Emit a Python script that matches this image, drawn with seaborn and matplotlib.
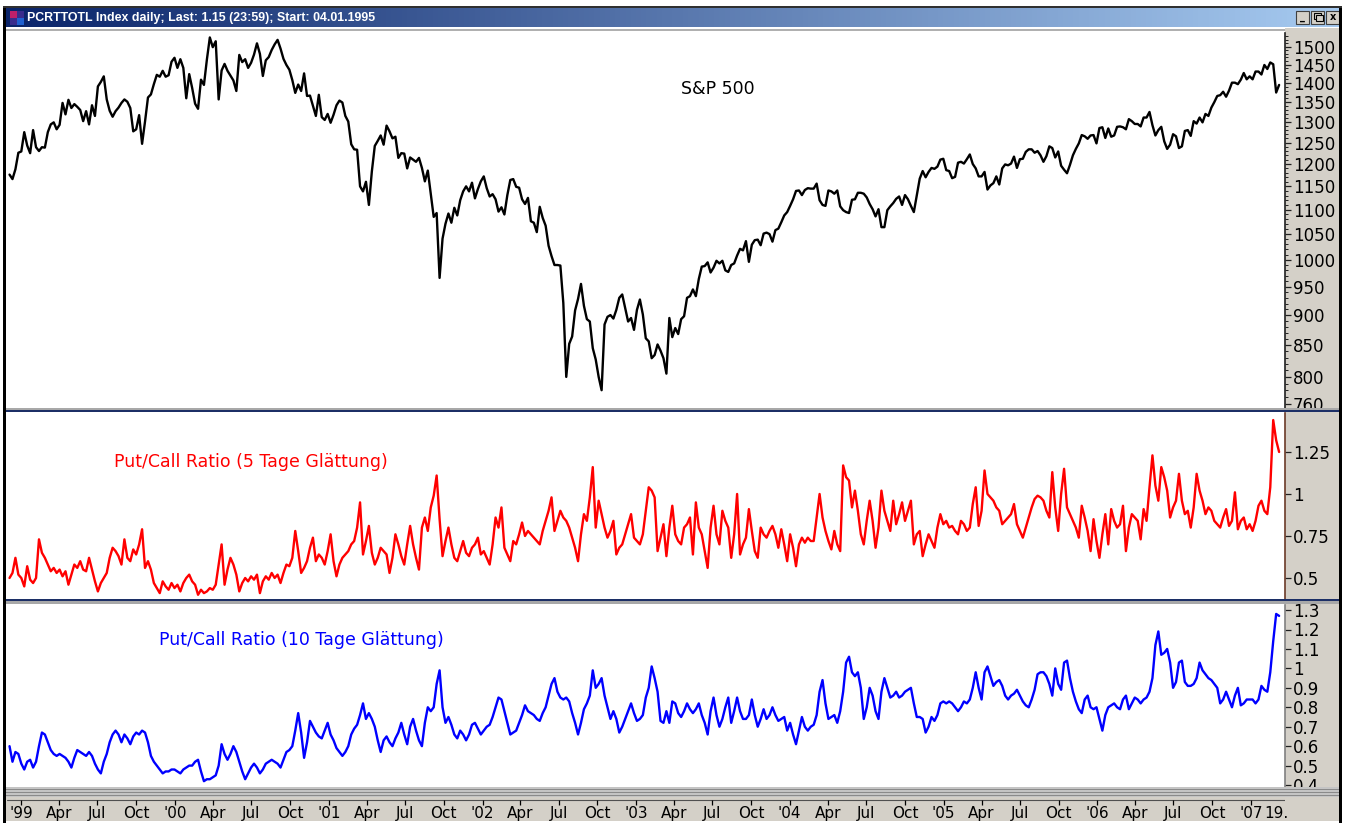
# S&P 500 vs. Put/Call Ratio (5 / 10 Tage) - terminal style chart
import numpy as np
import pandas as pd
import matplotlib
matplotlib.use("Agg")
import matplotlib.pyplot as plt
from matplotlib.patches import Rectangle
from matplotlib.colors import LinearSegmentedColormap
from matplotlib.ticker import FixedLocator, NullFormatter
import seaborn as sns

# weekly values (Fridays)
sp500_1998 = [1176, 1166, 1188, 1226]
sp500_1999 = [1229, 1275, 1243, 1225, 1280, 1239, 1230, 1239, 1238, 1275, 1294, 1299, 1282,
              1293, 1348, 1319, 1356, 1335, 1345, 1338, 1330, 1302, 1327, 1294, 1342, 1315,
              1391, 1403, 1418, 1357, 1328, 1313, 1327, 1336, 1348, 1357, 1351, 1335, 1277,
              1282, 1317, 1247, 1301, 1362, 1370, 1397, 1422, 1417, 1433, 1417, 1421, 1458, 1469]
sp500_2000 = [1441, 1465, 1441, 1360, 1424, 1387, 1346, 1333, 1409, 1395, 1464, 1527, 1499,
              1516, 1357, 1434, 1452, 1433, 1420, 1407, 1379, 1477, 1457, 1465, 1441, 1455,
              1478, 1510, 1480, 1419, 1462, 1471, 1491, 1507, 1520, 1495, 1466, 1449, 1436,
              1408, 1374, 1396, 1379, 1426, 1366, 1367, 1341, 1315, 1369, 1312, 1305, 1320]
sp500_2001 = [1298, 1318, 1342, 1354, 1349, 1315, 1301, 1246, 1234, 1233, 1150, 1139, 1160,
              1110, 1183, 1242, 1254, 1267, 1245, 1291, 1277, 1260, 1264, 1214, 1225, 1224,
              1190, 1215, 1210, 1205, 1214, 1191, 1161, 1185, 1134, 1085, 1093, 966, 1041,
              1071, 1092, 1073, 1104, 1088, 1120, 1139, 1150, 1139, 1158, 1124, 1144, 1161]
sp500_2002 = [1172, 1146, 1128, 1133, 1122, 1096, 1105, 1090, 1131, 1164, 1166, 1149, 1147,
              1122, 1112, 1125, 1076, 1073, 1054, 1106, 1083, 1067, 1027, 1007, 990, 990,
              989, 921, 800, 852, 864, 908, 928, 955, 916, 893, 889, 845, 827,
              800, 780, 884, 897, 900, 894, 909, 930, 936, 912, 889, 895, 875]
sp500_2003 = [909, 927, 901, 861, 856, 829, 834, 851, 841, 829, 805, 895, 863,
              878, 868, 893, 898, 930, 933, 945, 933, 964, 987, 988, 995, 976,
              985, 998, 993, 998, 980, 977, 990, 993, 1008, 1021, 1018, 1036, 996,
              1029, 1038, 1039, 1028, 1051, 1053, 1050, 1035, 1058, 1061, 1074, 1088, 1095]
sp500_2004 = [1108, 1122, 1140, 1141, 1131, 1142, 1146, 1145, 1145, 1156, 1120, 1110, 1108,
              1141, 1139, 1134, 1141, 1107, 1099, 1095, 1093, 1121, 1122, 1136, 1136, 1134,
              1126, 1112, 1101, 1086, 1101, 1064, 1064, 1099, 1107, 1114, 1123, 1128, 1110,
              1131, 1122, 1108, 1095, 1130, 1167, 1184, 1170, 1182, 1191, 1189, 1194, 1210, 1212]
sp500_2005 = [1186, 1184, 1168, 1171, 1203, 1205, 1201, 1211, 1222, 1200, 1190, 1172,
              1172, 1182, 1143, 1152, 1157, 1172, 1154, 1190, 1199, 1197, 1201, 1217, 1191,
              1211, 1212, 1228, 1234, 1234, 1226, 1230, 1220, 1205, 1218, 1241, 1237, 1215, 1229,
              1196, 1187, 1179, 1198, 1220, 1235, 1248, 1268, 1265, 1259, 1267, 1268, 1248]
sp500_2006 = [1285, 1287, 1261, 1284, 1264, 1267, 1288, 1289, 1287, 1282, 1307, 1302, 1295,
              1295, 1289, 1311, 1311, 1325, 1292, 1267, 1280, 1288, 1253, 1235, 1245, 1270,
              1265, 1237, 1241, 1278, 1280, 1266, 1302, 1296, 1311, 1299, 1320, 1315, 1336,
              1350, 1366, 1368, 1377, 1364, 1380, 1401, 1401, 1397, 1409, 1427, 1410, 1418]
sp500_2007 = [1410, 1431, 1431, 1423, 1449, 1438, 1456, 1451, 1375, 1395]

put_call_5d = [
    0.50, 0.53, 0.62, 0.52, 0.50, 0.45, 0.57, 0.49, 0.47, 0.50, 0.73, 0.65,
    0.62, 0.58, 0.54, 0.56, 0.53, 0.55, 0.51, 0.54, 0.46, 0.52, 0.58, 0.56,
    0.60, 0.55, 0.54, 0.62, 0.55, 0.48, 0.42, 0.47, 0.50, 0.53, 0.62, 0.68,
    0.66, 0.63, 0.58, 0.73, 0.62, 0.60, 0.67, 0.64, 0.70, 0.79, 0.56, 0.60,
    0.55, 0.47, 0.44, 0.41, 0.48, 0.45, 0.43, 0.47, 0.44, 0.46, 0.42, 0.47,
    0.50, 0.52, 0.48, 0.46, 0.40, 0.43, 0.41, 0.42, 0.44, 0.43, 0.46, 0.58,
    0.70, 0.46, 0.55, 0.62, 0.58, 0.52, 0.42, 0.47, 0.50, 0.48, 0.51, 0.49,
    0.52, 0.41, 0.48, 0.51, 0.49, 0.53, 0.50, 0.52, 0.47, 0.53, 0.58, 0.57,
    0.62, 0.78, 0.66, 0.53, 0.56, 0.60, 0.68, 0.74, 0.60, 0.64, 0.62, 0.58,
    0.66, 0.76, 0.60, 0.51, 0.58, 0.62, 0.64, 0.66, 0.70, 0.72, 0.80, 0.95,
    0.64, 0.72, 0.81, 0.65, 0.58, 0.62, 0.68, 0.66, 0.64, 0.53, 0.62, 0.76,
    0.70, 0.63, 0.58, 0.70, 0.81, 0.70, 0.62, 0.55, 0.80, 0.86, 0.78, 0.92,
    0.99, 1.11, 0.85, 0.63, 0.72, 0.80, 0.70, 0.62, 0.60, 0.66, 0.72, 0.65,
    0.63, 0.68, 0.70, 0.74, 0.64, 0.66, 0.62, 0.58, 0.70, 0.86, 0.80, 0.92,
    0.68, 0.64, 0.60, 0.72, 0.70, 0.76, 0.83, 0.75, 0.78, 0.76, 0.74, 0.72,
    0.70, 0.78, 0.84, 0.90, 0.98, 0.78, 0.84, 0.90, 0.86, 0.84, 0.80, 0.74,
    0.68, 0.60, 0.76, 0.88, 0.84, 0.98, 1.16, 0.80, 0.96, 0.88, 0.80, 0.74,
    0.78, 0.84, 0.64, 0.68, 0.70, 0.76, 0.82, 0.88, 0.74, 0.72, 0.70, 0.76,
    0.90, 1.04, 1.02, 0.98, 0.66, 0.74, 0.82, 0.63, 0.80, 0.93, 0.76, 0.72,
    0.70, 0.80, 0.82, 0.86, 0.64, 0.95, 0.80, 0.76, 0.66, 0.56, 0.80, 0.93,
    0.76, 0.70, 0.90, 0.84, 0.80, 0.62, 0.76, 1.00, 0.64, 0.70, 0.74, 0.91,
    0.78, 0.66, 0.62, 0.80, 0.76, 0.74, 0.78, 0.81, 0.76, 0.68, 0.79, 0.70,
    0.60, 0.76, 0.68, 0.57, 0.70, 0.74, 0.71, 0.74, 0.72, 0.72, 0.86, 1.00,
    0.86, 0.78, 0.72, 0.67, 0.78, 0.70, 0.66, 1.17, 1.10, 1.08, 0.92, 1.02,
    0.90, 0.76, 0.70, 0.84, 0.96, 0.84, 0.68, 0.80, 1.02, 0.90, 0.84, 0.78,
    0.96, 0.82, 0.88, 0.95, 0.84, 0.90, 0.96, 0.70, 0.76, 0.78, 0.63, 0.70,
    0.76, 0.72, 0.68, 0.80, 0.88, 0.82, 0.84, 0.80, 0.81, 0.78, 0.76, 0.84,
    0.82, 0.78, 0.80, 0.94, 1.04, 0.81, 0.90, 1.14, 1.00, 0.98, 0.96, 0.92,
    0.90, 0.82, 0.84, 0.86, 0.88, 0.94, 0.82, 0.78, 0.74, 0.80, 0.86, 0.92,
    0.97, 0.99, 0.98, 0.96, 0.90, 0.86, 1.13, 0.92, 0.78, 1.00, 1.15, 0.92,
    0.88, 0.84, 0.80, 0.74, 0.93, 0.86, 0.78, 0.66, 0.85, 0.72, 0.62, 0.76,
    0.88, 0.70, 0.91, 0.84, 0.80, 0.82, 0.93, 0.66, 0.80, 0.88, 0.86, 0.84,
    0.73, 0.91, 0.84, 1.04, 1.23, 1.05, 0.96, 1.16, 1.10, 1.02, 0.86, 0.92,
    0.96, 1.12, 0.96, 0.88, 0.90, 0.80, 0.92, 1.12, 1.02, 0.96, 0.88, 0.92,
    0.90, 0.84, 0.82, 0.80, 0.86, 0.91, 0.81, 0.84, 1.01, 0.79, 0.84, 0.86,
    0.79, 0.82, 0.78, 0.84, 0.93, 0.96, 0.90, 0.88, 1.04, 1.44, 1.32, 1.25,
]

put_call_10d = [
    0.60, 0.52, 0.57, 0.56, 0.51, 0.48, 0.52, 0.53, 0.49, 0.52, 0.60, 0.67,
    0.66, 0.62, 0.58, 0.56, 0.55, 0.56, 0.55, 0.54, 0.52, 0.49, 0.54, 0.58,
    0.57, 0.56, 0.55, 0.57, 0.55, 0.51, 0.48, 0.46, 0.52, 0.56, 0.62, 0.66,
    0.68, 0.66, 0.62, 0.66, 0.64, 0.61, 0.65, 0.67, 0.66, 0.68, 0.67, 0.62,
    0.55, 0.52, 0.50, 0.48, 0.46, 0.47, 0.47, 0.48, 0.48, 0.47, 0.46, 0.48,
    0.49, 0.50, 0.50, 0.52, 0.53, 0.47, 0.42, 0.43, 0.43, 0.44, 0.45, 0.50,
    0.61, 0.56, 0.53, 0.56, 0.60, 0.57, 0.52, 0.47, 0.43, 0.46, 0.49, 0.51,
    0.49, 0.46, 0.48, 0.51, 0.52, 0.53, 0.52, 0.51, 0.49, 0.53, 0.57, 0.58,
    0.60, 0.68, 0.77, 0.67, 0.54, 0.62, 0.73, 0.70, 0.67, 0.65, 0.64, 0.68,
    0.72, 0.66, 0.63, 0.59, 0.57, 0.55, 0.57, 0.60, 0.66, 0.69, 0.71, 0.76,
    0.82, 0.74, 0.77, 0.74, 0.70, 0.63, 0.57, 0.63, 0.65, 0.62, 0.60, 0.64,
    0.67, 0.72, 0.66, 0.61, 0.70, 0.74, 0.68, 0.63, 0.60, 0.72, 0.80, 0.78,
    0.80, 0.92, 0.99, 0.80, 0.72, 0.75, 0.71, 0.66, 0.64, 0.68, 0.66, 0.63,
    0.66, 0.71, 0.72, 0.69, 0.66, 0.68, 0.70, 0.71, 0.75, 0.80, 0.85, 0.84,
    0.78, 0.72, 0.66, 0.67, 0.68, 0.72, 0.76, 0.81, 0.78, 0.77, 0.76, 0.74,
    0.73, 0.77, 0.80, 0.86, 0.92, 0.95, 0.88, 0.85, 0.84, 0.85, 0.83, 0.77,
    0.72, 0.66, 0.72, 0.79, 0.82, 0.86, 0.99, 0.90, 0.92, 0.95, 0.86, 0.80,
    0.74, 0.78, 0.74, 0.67, 0.70, 0.74, 0.78, 0.82, 0.77, 0.73, 0.74, 0.76,
    0.85, 0.90, 1.01, 0.95, 0.88, 0.73, 0.72, 0.78, 0.72, 0.83, 0.82, 0.77,
    0.75, 0.78, 0.82, 0.79, 0.77, 0.79, 0.82, 0.76, 0.72, 0.66, 0.78, 0.85,
    0.76, 0.70, 0.74, 0.80, 0.85, 0.72, 0.78, 0.85, 0.78, 0.74, 0.74, 0.76,
    0.84, 0.76, 0.70, 0.74, 0.79, 0.74, 0.76, 0.80, 0.76, 0.73, 0.74, 0.75,
    0.68, 0.72, 0.66, 0.61, 0.68, 0.75, 0.70, 0.68, 0.70, 0.71, 0.76, 0.88,
    0.94, 0.82, 0.74, 0.75, 0.76, 0.72, 0.78, 0.88, 1.03, 1.06, 0.98, 0.96,
    0.98, 0.90, 0.74, 0.80, 0.90, 0.86, 0.78, 0.74, 0.88, 0.95, 0.90, 0.85,
    0.86, 0.88, 0.85, 0.86, 0.88, 0.89, 0.90, 0.82, 0.75, 0.75, 0.74, 0.67,
    0.70, 0.75, 0.73, 0.76, 0.82, 0.83, 0.82, 0.83, 0.82, 0.80, 0.78, 0.80,
    0.83, 0.82, 0.84, 0.90, 0.98, 0.90, 0.84, 0.98, 1.01, 0.96, 0.91, 0.93,
    0.94, 0.91, 0.86, 0.84, 0.86, 0.87, 0.89, 0.86, 0.83, 0.81, 0.80, 0.84,
    0.89, 0.97, 0.98, 0.98, 0.96, 0.92, 0.86, 1.00, 0.92, 0.89, 1.03, 1.04,
    0.95, 0.88, 0.83, 0.79, 0.77, 0.84, 0.86, 0.80, 0.79, 0.80, 0.74, 0.68,
    0.76, 0.80, 0.81, 0.82, 0.80, 0.79, 0.84, 0.86, 0.79, 0.82, 0.85, 0.84,
    0.82, 0.84, 0.85, 0.88, 0.95, 1.12, 1.19, 1.07, 1.08, 1.10, 1.03, 0.90,
    0.93, 1.03, 1.04, 0.93, 0.91, 0.91, 0.92, 0.95, 1.03, 0.99, 0.97, 0.95,
    0.94, 0.92, 0.90, 0.82, 0.84, 0.88, 0.84, 0.80, 0.86, 0.90, 0.81, 0.82,
    0.84, 0.84, 0.84, 0.82, 0.84, 0.91, 0.89, 0.88, 0.98, 1.14, 1.28, 1.27,
]

sp_ticks = [760, 800, 850, 900, 950, 1000, 1050, 1100, 1150, 1200,
            1250, 1300, 1350, 1400, 1450, 1500]
pc5_ticks = [0.5, 0.75, 1.0, 1.25]
pc5_labels = ["0.5", "0.75", "1", "1.25"]
pc10_ticks = [0.4, 0.5, 0.6, 0.7, 0.8, 0.9, 1.0, 1.1, 1.2, 1.3]
pc10_labels = ["0.4", "0.5", "0.6", "0.7", "0.8", "0.9", "1", "1.1", "1.2", "1.3"]
title_text = "PCRTTOTL Index daily; Last: 1.15 (23:59); Start: 04.01.1995"

sp500 = (sp500_1998 + sp500_1999 + sp500_2000 + sp500_2001 + sp500_2002 +
         sp500_2003 + sp500_2004 + sp500_2005 + sp500_2006 + sp500_2007)

first_week = "1998-12-04"
sp_dates = pd.date_range(first_week, periods=len(sp500), freq="W-FRI")
pc5_dates = pd.date_range(first_week, periods=len(put_call_5d), freq="W-FRI")
pc10_dates = pd.date_range(first_week, periods=len(put_call_10d), freq="W-FRI")
x_left = pd.Timestamp("1998-11-28")
x_right = pd.Timestamp("2007-03-23")

W, H = 1345, 823
GRAY = "#D4D0C8"


def px_rect(x0, y0, x1, y1):
    # pixel box (top-left origin) -> figure fraction rect
    return [x0 / W, 1 - y1 / H, (x1 - x0) / W, (y1 - y0) / H]


def fig_box(fig, x0, y0, x1, y1, color, z=-5, **kw):
    fig.add_artist(Rectangle((x0 / W, 1 - y1 / H), (x1 - x0) / W, (y1 - y0) / H,
                             transform=fig.transFigure, facecolor=color,
                             edgecolor=kw.pop("edgecolor", "none"), zorder=z, **kw))


sns.set_style("white")
plt.rcParams["font.family"] = ["DejaVu Sans"]

fig = plt.figure(figsize=(W / 100, H / 100), dpi=100, facecolor="white")

# gray frame areas (right scale column, bottom date strip)
fig_box(fig, 1285, 28, 1339, 821, GRAY)
fig_box(fig, 5, 787, 1339, 821, GRAY)
# title bar with gradient
axt = fig.add_axes(px_rect(6, 8, 1339, 27))
grad = np.linspace(0, 1, 256).reshape(1, -1)
axt.imshow(grad, aspect="auto", extent=[0, 1, 0, 1],
           cmap=LinearSegmentedColormap.from_list("tb", ["#0A246A", "#A6CAF0"]))
axt.set_axis_off()
fig.text(27 / W, 1 - 18 / H, title_text, color="white", fontweight="bold",
         fontsize=8.9, family=["Liberation Sans", "DejaVu Sans"], va="center")
# little window icon
fig_box(fig, 10, 11, 24, 25, "#3A2C8C", z=5)
fig_box(fig, 10, 11, 17, 18, "#C0206A", z=6)
fig_box(fig, 17, 18, 24, 25, "#2060D0", z=6)
# window buttons
for bx0, sym in [(1296, "_"), (1311, ""), (1326, "x")]:
    fig_box(fig, bx0, 11, bx0 + 13, 24, GRAY, z=5, edgecolor="#404040", linewidth=0.8)
    if sym:
        fig.text((bx0 + 6.5) / W, 1 - 17 / H, sym, ha="center", va="center",
                 fontsize=7, fontweight="bold", color="black", zorder=6)
fig_box(fig, 1314, 13, 1321, 19, "none", z=6, edgecolor="black", linewidth=0.8)
fig_box(fig, 1316, 15, 1323, 21, GRAY, z=7, edgecolor="black", linewidth=0.8)


def add_panel(y0, y1, dates, values, color, ylim, ticks, labels, spine_color, log=False):
    ax = fig.add_axes(px_rect(7, y0, 1285, y1))
    sns.lineplot(x=dates, y=values, ax=ax, color=color, linewidth=1.7)
    if log:
        ax.set_yscale("log")
    ax.set_ylim(*ylim)
    ax.set_xlim(x_left, x_right)
    ax.set_yticks(ticks, labels=labels)
    ax.set_xticks([])
    ax.set_xlabel("")
    ax.set_ylabel("")
    ax.set_facecolor("white")
    for s in ["left", "top", "bottom"]:
        ax.spines[s].set_visible(False)
    ax.spines["right"].set_color(spine_color)
    ax.spines["right"].set_linewidth(1.2)
    ax.yaxis.tick_right()
    ax.tick_params(axis="y", which="major", right=True, direction="out", length=4,
                   width=0.9, color="#202020", labelsize=12, pad=1.5, labelcolor="black")
    return ax


# S&P 500 panel
ax1 = add_panel(33, 408, sp_dates, sp500, "black", (754, 1540), sp_ticks,
                [str(v) for v in sp_ticks], "#202020", log=True)
ax1.yaxis.set_minor_locator(FixedLocator(list(range(760, 1540, 10))))
ax1.yaxis.set_minor_formatter(NullFormatter())
ax1.tick_params(axis="y", which="minor", right=True, direction="out", length=2.5,
                width=0.7, color="#202020")
fig.text(718 / W, 1 - 89 / H, "S&P 500", ha="center", va="center",
         fontsize=12.5, color="black")

# Put/Call 5 Tage
ax2 = add_panel(413, 600, pc5_dates, put_call_5d, "#FF0000", (0.369, 1.482),
                pc5_ticks, pc5_labels, "#6B3A28")
fig.text(251 / W, 1 - 462 / H, "Put/Call Ratio (5 Tage Glättung)", ha="center",
         va="center", fontsize=12.5, color="#FF0000")

# Put/Call 10 Tage
ax3 = add_panel(605, 787, pc10_dates, put_call_10d, "#0000FF", (0.39, 1.326),
                pc10_ticks, pc10_labels, "#808080")
fig.text(301 / W, 1 - 640 / H, "Put/Call Ratio (10 Tage Glättung)", ha="center",
         va="center", fontsize=12.5, color="#0000FF")

# separators between the panels
fig_box(fig, 5, 29, 1285, 31, "#B0B0B0", z=5)
fig_box(fig, 5, 408, 1339, 410, "#A8A8A8", z=5)
fig_box(fig, 5, 410, 1339, 412, "#1C2F66", z=5)
fig_box(fig, 5, 599, 1339, 601, "#1C2F66", z=5)
fig_box(fig, 5, 601, 1339, 604, "#A8A8A8", z=5)
# striped bar above the date strip
fig_box(fig, 5, 787, 1339, 797, "#C4C4C4", z=5)
for yy in (789, 792, 795):
    fig_box(fig, 5, yy, 1339, yy + 1, "#8A8A8A", z=6)

# date strip
axb = fig.add_axes(px_rect(7, 797, 1285, 821))
axb.set_facecolor(GRAY)
axb.set_xlim(x_left, x_right)
axb.set_ylim(0, 1)
axb.set_axis_off()
q_dates = pd.date_range("1999-01-01", "2007-01-01", freq="QS")
q_labels = [f"'{d.year % 100:02d}" if d.month == 1 else d.strftime("%b") for d in q_dates]
axb.axhline(0.86, color="#505050", lw=0.8)
axb.vlines(q_dates, 0.68, 0.86, color="black", lw=0.9)
for d, lab in zip(q_dates, q_labels):
    axb.text(d, 0.33, lab, ha="center", va="center", fontsize=11, color="black")
axb.text(pd.Timestamp("2007-03-03"), 0.33, "19.", ha="center", va="center",
         fontsize=11, color="black", clip_on=False)

# window border
fig_box(fig, 3, 7, 6, 823, "black", z=8)
fig_box(fig, 1339, 7, 1342, 823, "black", z=8)
fig_box(fig, 3, 6, 1342, 8, "#303030", z=8)

fig.savefig("out.png", dpi=100, facecolor="white")
